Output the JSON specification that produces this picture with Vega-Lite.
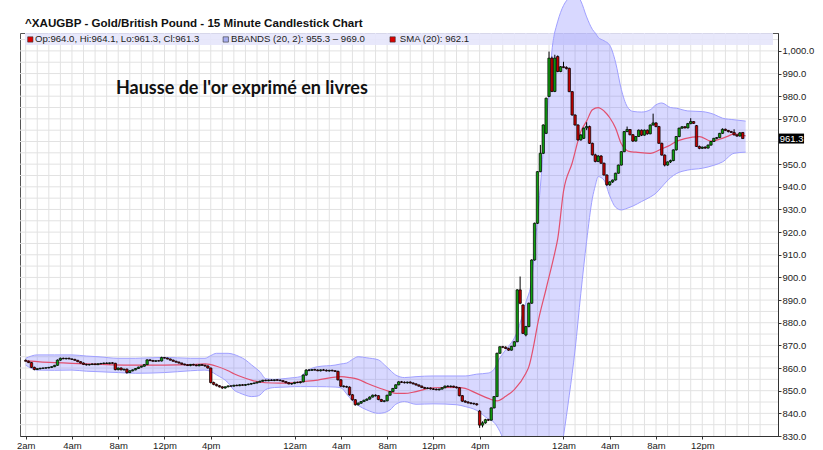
{
"$schema":"https://vega.github.io/schema/vega-lite/v6.json",
"width":758,"height":403,
"autosize":{"type":"none"},
"padding":{"left":20,"top":33,"right":45,"bottom":14},
"background":"#ffffff",
"config":{"view":{"stroke":"#555555","strokeWidth":1},"text":{"font":"Liberation Sans"},"axis":{"grid":false,"title":null,"labelOverlap":false,"labelBound":false,"labelFlush":false}},
"datasets":{
"candles":[
{"i":0,"o":863.4,"h":863.8,"l":862.9,"c":863.0},{"i":1,"o":863.0,"h":863.3,"l":862.2,"c":862.4},{"i":2,"o":862.4,"h":862.6,"l":860.0,"c":860.3},{"i":3,"o":860.3,"h":860.6,"l":859.0,"c":859.4},{"i":4,"o":859.4,"h":859.9,"l":859.1,"c":859.7},{"i":5,"o":859.7,"h":860.1,"l":859.4,"c":859.9},{"i":6,"o":859.9,"h":860.2,"l":859.6,"c":860.0},{"i":7,"o":860.0,"h":860.3,"l":859.7,"c":860.1},{"i":8,"o":860.1,"h":860.5,"l":859.8,"c":860.3},{"i":9,"o":860.3,"h":860.7,"l":860.0,"c":860.6},
{"i":10,"o":860.6,"h":861.4,"l":860.4,"c":861.2},{"i":11,"o":861.2,"h":863.8,"l":861.0,"c":863.5},{"i":12,"o":863.5,"h":864.6,"l":863.2,"c":864.3},{"i":13,"o":864.3,"h":864.6,"l":863.9,"c":864.1},{"i":14,"o":864.1,"h":864.5,"l":863.8,"c":864.3},{"i":15,"o":864.3,"h":864.6,"l":863.9,"c":864.0},{"i":16,"o":864.0,"h":864.3,"l":863.6,"c":863.8},{"i":17,"o":863.8,"h":864.1,"l":863.3,"c":863.4},{"i":18,"o":863.4,"h":863.6,"l":862.6,"c":862.8},{"i":19,"o":862.8,"h":863.0,"l":862.0,"c":862.2},
{"i":20,"o":862.2,"h":862.5,"l":861.4,"c":861.6},{"i":21,"o":861.6,"h":861.9,"l":861.1,"c":861.4},{"i":22,"o":861.4,"h":861.8,"l":861.1,"c":861.6},{"i":23,"o":861.6,"h":862.0,"l":861.3,"c":861.8},{"i":24,"o":861.8,"h":862.1,"l":861.4,"c":861.5},{"i":25,"o":861.5,"h":862.0,"l":861.3,"c":861.9},{"i":26,"o":861.9,"h":862.3,"l":861.6,"c":862.0},{"i":27,"o":862.0,"h":862.4,"l":861.7,"c":862.2},{"i":28,"o":862.2,"h":862.5,"l":861.8,"c":862.0},{"i":29,"o":862.0,"h":862.4,"l":861.7,"c":862.3},
{"i":30,"o":862.3,"h":862.6,"l":861.9,"c":862.1},{"i":31,"o":862.1,"h":862.3,"l":859.0,"c":859.3},{"i":32,"o":859.3,"h":860.2,"l":859.0,"c":860.0},{"i":33,"o":860.0,"h":860.3,"l":859.0,"c":859.2},{"i":34,"o":859.2,"h":859.7,"l":858.9,"c":859.5},{"i":35,"o":859.5,"h":859.8,"l":857.5,"c":858.0},{"i":36,"o":858.0,"h":859.0,"l":857.8,"c":858.8},{"i":37,"o":858.8,"h":859.4,"l":858.5,"c":859.2},{"i":38,"o":859.2,"h":860.0,"l":859.0,"c":859.8},{"i":39,"o":859.8,"h":860.6,"l":859.6,"c":860.4},
{"i":40,"o":860.4,"h":861.0,"l":860.2,"c":860.8},{"i":41,"o":860.8,"h":861.8,"l":860.6,"c":861.5},{"i":42,"o":861.5,"h":863.9,"l":861.3,"c":863.6},{"i":43,"o":863.6,"h":863.9,"l":863.0,"c":863.3},{"i":44,"o":863.3,"h":863.6,"l":862.8,"c":863.0},{"i":45,"o":863.0,"h":863.4,"l":862.7,"c":863.2},{"i":46,"o":863.2,"h":863.5,"l":862.9,"c":863.1},{"i":47,"o":863.1,"h":865.0,"l":862.9,"c":864.6},{"i":48,"o":864.6,"h":864.9,"l":864.2,"c":864.4},{"i":49,"o":864.4,"h":864.6,"l":863.8,"c":864.0},
{"i":50,"o":864.0,"h":864.2,"l":863.3,"c":863.5},{"i":51,"o":863.5,"h":863.7,"l":862.8,"c":863.0},{"i":52,"o":863.0,"h":863.2,"l":862.4,"c":862.6},{"i":53,"o":862.6,"h":862.9,"l":862.0,"c":862.2},{"i":54,"o":862.2,"h":862.4,"l":861.5,"c":861.7},{"i":55,"o":861.7,"h":862.0,"l":861.2,"c":861.4},{"i":56,"o":861.4,"h":861.7,"l":860.9,"c":861.1},{"i":57,"o":861.1,"h":861.8,"l":860.8,"c":861.6},{"i":58,"o":861.6,"h":861.9,"l":861.1,"c":861.3},{"i":59,"o":861.3,"h":861.6,"l":860.8,"c":861.0},
{"i":60,"o":861.0,"h":861.7,"l":860.8,"c":861.5},{"i":61,"o":861.5,"h":861.8,"l":860.9,"c":861.2},{"i":62,"o":861.2,"h":861.5,"l":860.6,"c":860.9},{"i":63,"o":860.9,"h":861.2,"l":859.8,"c":860.0},{"i":64,"o":860.0,"h":860.2,"l":853.2,"c":853.6},{"i":65,"o":853.6,"h":854.0,"l":852.4,"c":852.8},{"i":66,"o":852.8,"h":853.1,"l":851.9,"c":852.2},{"i":67,"o":852.2,"h":852.5,"l":851.4,"c":851.7},{"i":68,"o":851.7,"h":852.0,"l":850.8,"c":851.2},{"i":69,"o":851.2,"h":851.9,"l":850.9,"c":851.7},
{"i":70,"o":851.7,"h":852.3,"l":851.5,"c":852.1},{"i":71,"o":852.1,"h":852.4,"l":851.8,"c":852.0},{"i":72,"o":852.0,"h":852.6,"l":851.8,"c":852.4},{"i":73,"o":852.4,"h":852.7,"l":852.0,"c":852.2},{"i":74,"o":852.2,"h":852.8,"l":852.0,"c":852.6},{"i":75,"o":852.6,"h":852.9,"l":852.2,"c":852.4},{"i":76,"o":852.4,"h":852.9,"l":852.1,"c":852.7},{"i":77,"o":852.7,"h":853.1,"l":852.4,"c":852.9},{"i":78,"o":852.9,"h":853.4,"l":852.6,"c":853.2},{"i":79,"o":853.2,"h":853.6,"l":852.9,"c":853.4},
{"i":80,"o":853.4,"h":854.0,"l":853.2,"c":853.8},{"i":81,"o":853.8,"h":854.4,"l":853.6,"c":854.2},{"i":82,"o":854.2,"h":854.8,"l":853.9,"c":854.6},{"i":83,"o":854.6,"h":854.9,"l":854.2,"c":854.4},{"i":84,"o":854.4,"h":854.9,"l":854.2,"c":854.7},{"i":85,"o":854.7,"h":855.0,"l":854.3,"c":854.5},{"i":86,"o":854.5,"h":854.9,"l":854.2,"c":854.8},{"i":87,"o":854.8,"h":855.1,"l":854.4,"c":854.6},{"i":88,"o":854.6,"h":855.0,"l":854.3,"c":854.4},{"i":89,"o":854.4,"h":854.7,"l":853.8,"c":854.0},
{"i":90,"o":854.0,"h":854.3,"l":853.3,"c":853.5},{"i":91,"o":853.5,"h":853.8,"l":852.8,"c":853.0},{"i":92,"o":853.0,"h":853.4,"l":852.6,"c":853.2},{"i":93,"o":853.2,"h":853.9,"l":852.9,"c":853.7},{"i":94,"o":853.7,"h":854.0,"l":853.3,"c":853.6},{"i":95,"o":853.6,"h":854.1,"l":853.2,"c":853.9},{"i":96,"o":853.9,"h":857.2,"l":853.7,"c":856.9},{"i":97,"o":856.9,"h":859.5,"l":856.6,"c":859.1},{"i":98,"o":859.1,"h":859.6,"l":858.6,"c":859.0},{"i":99,"o":859.0,"h":859.5,"l":858.7,"c":859.3},
{"i":100,"o":859.3,"h":859.7,"l":858.9,"c":859.1},{"i":101,"o":859.1,"h":859.5,"l":858.6,"c":858.8},{"i":102,"o":858.8,"h":859.4,"l":858.5,"c":859.2},{"i":103,"o":859.2,"h":859.6,"l":858.9,"c":859.0},{"i":104,"o":859.0,"h":859.4,"l":858.5,"c":858.7},{"i":105,"o":858.7,"h":859.2,"l":858.4,"c":859.0},{"i":106,"o":859.0,"h":859.3,"l":858.5,"c":858.8},{"i":107,"o":858.8,"h":859.1,"l":858.3,"c":858.5},{"i":108,"o":858.5,"h":858.9,"l":854.5,"c":854.8},{"i":109,"o":854.8,"h":855.1,"l":851.6,"c":852.0},
{"i":110,"o":852.0,"h":852.4,"l":851.4,"c":851.8},{"i":111,"o":851.8,"h":852.2,"l":851.3,"c":851.6},{"i":112,"o":851.6,"h":851.9,"l":847.8,"c":848.2},{"i":113,"o":848.2,"h":848.5,"l":845.6,"c":846.0},{"i":114,"o":846.0,"h":846.3,"l":843.4,"c":843.8},{"i":115,"o":843.8,"h":844.8,"l":843.5,"c":844.5},{"i":116,"o":844.5,"h":845.4,"l":844.2,"c":845.2},{"i":117,"o":845.2,"h":846.0,"l":845.0,"c":845.8},{"i":118,"o":845.8,"h":846.6,"l":845.5,"c":846.3},{"i":119,"o":846.3,"h":847.5,"l":846.0,"c":847.2},
{"i":120,"o":847.2,"h":848.3,"l":847.0,"c":848.0},{"i":121,"o":848.0,"h":848.4,"l":847.4,"c":847.8},{"i":122,"o":847.8,"h":848.0,"l":845.8,"c":846.1},{"i":123,"o":846.1,"h":846.4,"l":845.0,"c":845.3},{"i":124,"o":845.3,"h":845.8,"l":844.9,"c":845.5},{"i":125,"o":845.5,"h":848.2,"l":845.3,"c":848.0},{"i":126,"o":848.0,"h":849.8,"l":847.8,"c":849.6},{"i":127,"o":849.6,"h":851.2,"l":849.4,"c":851.0},{"i":128,"o":851.0,"h":852.8,"l":850.8,"c":852.6},{"i":129,"o":852.6,"h":854.2,"l":852.4,"c":853.9},
{"i":130,"o":853.9,"h":854.3,"l":853.4,"c":853.7},{"i":131,"o":853.7,"h":854.1,"l":853.2,"c":853.5},{"i":132,"o":853.5,"h":854.0,"l":853.1,"c":853.8},{"i":133,"o":853.8,"h":854.1,"l":853.2,"c":853.4},{"i":134,"o":853.4,"h":853.7,"l":852.8,"c":853.0},{"i":135,"o":853.0,"h":853.3,"l":852.3,"c":852.5},{"i":136,"o":852.5,"h":852.8,"l":851.8,"c":852.0},{"i":137,"o":852.0,"h":852.3,"l":851.2,"c":851.4},{"i":138,"o":851.4,"h":851.7,"l":850.8,"c":851.0},{"i":139,"o":851.0,"h":851.5,"l":850.7,"c":851.2},
{"i":140,"o":851.2,"h":851.4,"l":850.5,"c":850.8},{"i":141,"o":850.8,"h":851.2,"l":850.3,"c":850.6},{"i":142,"o":850.6,"h":851.0,"l":850.2,"c":850.4},{"i":143,"o":850.4,"h":850.9,"l":850.1,"c":850.7},{"i":144,"o":850.7,"h":851.5,"l":850.5,"c":851.3},{"i":145,"o":851.3,"h":852.3,"l":851.1,"c":852.0},{"i":146,"o":852.0,"h":852.4,"l":851.6,"c":851.8},{"i":147,"o":851.8,"h":852.3,"l":851.5,"c":852.0},{"i":148,"o":852.0,"h":852.2,"l":851.4,"c":851.6},{"i":149,"o":851.6,"h":851.9,"l":851.0,"c":851.3},
{"i":150,"o":851.3,"h":851.6,"l":847.5,"c":847.8},{"i":151,"o":847.8,"h":848.1,"l":845.0,"c":845.4},{"i":152,"o":845.4,"h":845.8,"l":844.6,"c":845.0},{"i":153,"o":845.0,"h":845.4,"l":844.3,"c":844.6},{"i":154,"o":844.6,"h":845.0,"l":844.0,"c":844.4},{"i":155,"o":844.4,"h":844.7,"l":843.8,"c":844.2},{"i":156,"o":844.2,"h":844.5,"l":843.4,"c":843.8},{"i":157,"o":841.0,"h":841.5,"l":833.6,"c":834.8},{"i":158,"o":834.8,"h":836.5,"l":833.8,"c":835.8},{"i":159,"o":835.8,"h":837.6,"l":835.4,"c":837.2},
{"i":160,"o":837.2,"h":837.6,"l":836.6,"c":837.0},{"i":161,"o":837.0,"h":842.6,"l":836.8,"c":842.4},{"i":162,"o":842.4,"h":847.6,"l":842.2,"c":847.4},{"i":163,"o":847.4,"h":866.8,"l":847.2,"c":866.5},{"i":164,"o":866.5,"h":869.6,"l":866.3,"c":869.4},{"i":165,"o":869.4,"h":869.8,"l":868.8,"c":869.2},{"i":166,"o":869.2,"h":869.6,"l":868.4,"c":868.6},{"i":167,"o":868.6,"h":869.0,"l":867.6,"c":867.9},{"i":168,"o":867.9,"h":869.8,"l":867.7,"c":869.6},{"i":169,"o":869.6,"h":871.8,"l":869.4,"c":871.6},
{"i":170,"o":871.6,"h":894.8,"l":871.4,"c":894.5},{"i":171,"o":894.5,"h":900.4,"l":888.2,"c":888.6},{"i":172,"o":887.8,"h":888.2,"l":875.0,"c":875.3},{"i":173,"o":874.6,"h":878.6,"l":874.0,"c":878.3},{"i":174,"o":878.3,"h":888.9,"l":878.0,"c":888.6},{"i":175,"o":888.6,"h":908.0,"l":888.4,"c":907.7},{"i":176,"o":907.7,"h":924.2,"l":907.4,"c":923.9},{"i":177,"o":923.9,"h":946.9,"l":923.6,"c":946.7},{"i":178,"o":946.7,"h":958.5,"l":946.4,"c":954.8},{"i":179,"o":954.8,"h":967.6,"l":954.5,"c":967.3},
{"i":180,"o":963.6,"h":979.4,"l":963.3,"c":979.1},{"i":181,"o":979.9,"h":999.7,"l":979.6,"c":996.8},{"i":182,"o":996.8,"h":997.5,"l":981.8,"c":982.1},{"i":183,"o":982.1,"h":998.3,"l":981.8,"c":996.8},{"i":184,"o":997.5,"h":998.0,"l":990.6,"c":990.9},{"i":185,"o":990.9,"h":993.3,"l":990.6,"c":993.0},{"i":186,"o":993.0,"h":995.2,"l":992.4,"c":992.7},{"i":187,"o":992.7,"h":993.2,"l":991.8,"c":992.2},{"i":188,"o":992.3,"h":992.6,"l":981.8,"c":982.0},{"i":189,"o":982.0,"h":982.3,"l":971.4,"c":971.7},
{"i":190,"o":971.7,"h":972.0,"l":967.0,"c":967.3},{"i":191,"o":967.3,"h":967.6,"l":960.4,"c":960.7},{"i":192,"o":960.7,"h":963.2,"l":960.4,"c":962.9},{"i":193,"o":961.4,"h":966.2,"l":961.1,"c":965.9},{"i":194,"o":966.0,"h":968.5,"l":965.0,"c":966.6},{"i":195,"o":966.6,"h":967.0,"l":958.9,"c":959.2},{"i":196,"o":959.2,"h":959.5,"l":953.8,"c":954.1},{"i":197,"o":954.1,"h":954.6,"l":950.8,"c":951.2},{"i":198,"o":951.2,"h":954.0,"l":950.9,"c":953.6},{"i":199,"o":953.6,"h":954.0,"l":950.2,"c":950.4},
{"i":200,"o":950.4,"h":950.7,"l":945.0,"c":945.2},{"i":201,"o":945.2,"h":945.5,"l":940.4,"c":940.9},{"i":202,"o":940.9,"h":942.4,"l":940.4,"c":942.2},{"i":203,"o":942.2,"h":943.2,"l":941.7,"c":943.0},{"i":204,"o":943.0,"h":946.2,"l":942.8,"c":946.0},{"i":205,"o":946.0,"h":949.8,"l":945.8,"c":949.6},{"i":206,"o":949.6,"h":955.7,"l":949.4,"c":955.5},{"i":207,"o":955.5,"h":964.6,"l":955.3,"c":964.4},{"i":208,"o":964.4,"h":966.6,"l":964.1,"c":965.3},{"i":209,"o":965.3,"h":965.5,"l":962.7,"c":963.0},
{"i":210,"o":963.0,"h":963.3,"l":959.8,"c":960.2},{"i":211,"o":960.2,"h":962.4,"l":960.0,"c":962.2},{"i":212,"o":962.2,"h":965.3,"l":962.0,"c":965.0},{"i":213,"o":965.0,"h":965.3,"l":962.4,"c":962.8},{"i":214,"o":962.8,"h":965.3,"l":962.6,"c":965.0},{"i":215,"o":965.0,"h":965.3,"l":963.0,"c":963.4},{"i":216,"o":963.4,"h":967.5,"l":963.2,"c":967.3},{"i":217,"o":967.3,"h":972.3,"l":967.0,"c":968.2},{"i":218,"o":968.2,"h":968.5,"l":966.3,"c":966.6},{"i":219,"o":966.6,"h":966.9,"l":959.0,"c":959.2},
{"i":220,"o":959.2,"h":959.5,"l":953.8,"c":954.0},{"i":221,"o":954.0,"h":954.3,"l":949.0,"c":949.6},{"i":222,"o":949.6,"h":951.2,"l":949.3,"c":951.0},{"i":223,"o":951.0,"h":952.0,"l":950.5,"c":951.6},{"i":224,"o":951.6,"h":956.5,"l":951.3,"c":956.3},{"i":225,"o":956.3,"h":962.4,"l":956.0,"c":962.2},{"i":226,"o":962.2,"h":966.1,"l":961.9,"c":965.9},{"i":227,"o":965.9,"h":966.8,"l":965.6,"c":966.5},{"i":228,"o":966.5,"h":966.8,"l":965.8,"c":966.0},{"i":229,"o":966.0,"h":968.2,"l":965.8,"c":967.9},
{"i":230,"o":967.9,"h":970.3,"l":967.6,"c":968.8},{"i":231,"o":968.8,"h":969.0,"l":967.8,"c":968.0},{"i":232,"o":967.0,"h":967.3,"l":957.6,"c":957.8},{"i":233,"o":957.8,"h":958.2,"l":956.6,"c":957.0},{"i":234,"o":957.0,"h":957.8,"l":956.7,"c":957.5},{"i":235,"o":957.5,"h":957.9,"l":956.8,"c":957.1},{"i":236,"o":957.1,"h":958.7,"l":956.9,"c":958.4},{"i":237,"o":958.4,"h":960.2,"l":958.2,"c":960.0},{"i":238,"o":960.0,"h":961.6,"l":959.8,"c":961.4},{"i":239,"o":961.4,"h":962.0,"l":961.0,"c":961.7},
{"i":240,"o":961.7,"h":963.8,"l":961.5,"c":963.6},{"i":241,"o":963.6,"h":965.8,"l":963.4,"c":965.4},{"i":242,"o":965.4,"h":965.7,"l":964.6,"c":964.9},{"i":243,"o":964.9,"h":965.1,"l":964.0,"c":964.4},{"i":244,"o":964.4,"h":964.7,"l":963.8,"c":964.0},{"i":245,"o":964.0,"h":965.4,"l":962.7,"c":962.9},{"i":246,"o":962.9,"h":963.2,"l":962.1,"c":962.4},{"i":247,"o":962.4,"h":964.2,"l":962.2,"c":963.8},{"i":248,"o":964.0,"h":964.1,"l":961.3,"c":961.3}
],
"bb":[
{"i":0,"u":864.3,"d":861.3},{"i":4,"u":865.8,"d":859.1},{"i":10,"u":865.8,"d":859.0},{"i":16,"u":865.8,"d":859.1},{"i":21,"u":865.3,"d":858.6},{"i":25,"u":865.0,"d":858.4},{"i":32,"u":864.3,"d":858.0},{"i":38,"u":864.3,"d":857.7},{"i":48,"u":864.7,"d":858.0},{"i":57,"u":864.3,"d":858.8},{"i":62,"u":864.3,"d":859.1},{"i":64,"u":865.5,"d":858.5},{"i":66,"u":866.5,"d":857.0},{"i":70,"u":866.5,"d":853.5},{"i":72,"u":866.0,"d":850.3},{"i":74,"u":865.0,"d":849.0},{"i":76,"u":863.6,"d":848.0},{"i":78,"u":861.5,"d":847.4},{"i":80,"u":859.5,"d":847.6},{"i":81,"u":858.4,"d":848.1},{"i":83,"u":855.3,"d":850.5},{"i":86,"u":855.0,"d":851.4},{"i":90,"u":855.4,"d":851.6},{"i":93,"u":855.8,"d":851.8},{"i":95,"u":856.2,"d":851.8},{"i":97,"u":858.5,"d":851.8},{"i":101,"u":860.6,"d":851.8},{"i":107,"u":861.3,"d":851.6},{"i":109,"u":861.8,"d":851.3},{"i":111,"u":862.2,"d":848.6},{"i":113,"u":863.8,"d":845.5},{"i":115,"u":865.0,"d":843.5},{"i":118,"u":864.5,"d":841.5},{"i":122,"u":863.6,"d":840.0},{"i":124,"u":861.5,"d":840.3},{"i":126,"u":859.1,"d":841.5},{"i":128,"u":856.9,"d":844.0},{"i":131,"u":855.8,"d":845.2},{"i":135,"u":856.2,"d":844.0},{"i":141,"u":856.5,"d":844.2},{"i":149,"u":856.5,"d":843.8},{"i":152,"u":856.5,"d":843.0},{"i":156,"u":857.3,"d":841.3},{"i":160,"u":857.8,"d":837.5},{"i":162,"u":859.5,"d":836.0},{"i":164,"u":864.5,"d":832.0},{"i":166,"u":868.0,"d":826.0},{"i":170,"u":876.0,"d":818.0},{"i":173,"u":889.0,"d":813.0},{"i":175,"u":899.0,"d":811.0},{"i":176,"u":912.0,"d":810.0},{"i":178,"u":940.0,"d":810.0},{"i":179,"u":956.0,"d":810.0},{"i":181,"u":982.0,"d":811.0},{"i":182,"u":1000.0,"d":812.0},{"i":182.9,"u":1007.9,"d":813.8},{"i":185,"u":1017.0,"d":822.0},{"i":186,"u":1020.0,"d":830.0},{"i":188,"u":1023.5,"d":848.0},{"i":190,"u":1025.0,"d":868.0},{"i":192,"u":1022.0,"d":893.0},{"i":194,"u":1015.0,"d":916.0},{"i":196,"u":1009.5,"d":935.0},{"i":197,"u":1007.9,"d":940.5},{"i":198,"u":1006.0,"d":944.5},{"i":200,"u":1004.5,"d":943.0},{"i":202,"u":1002.5,"d":936.0},{"i":204,"u":995.0,"d":931.0},{"i":206,"u":983.0,"d":929.8},{"i":208,"u":975.5,"d":930.5},{"i":210,"u":973.3,"d":931.5},{"i":213,"u":973.0,"d":933.5},{"i":216,"u":974.0,"d":935.5},{"i":218,"u":976.2,"d":937.2},{"i":220,"u":977.0,"d":940.0},{"i":223,"u":975.0,"d":944.0},{"i":225,"u":974.7,"d":945.8},{"i":229,"u":973.5,"d":947.4},{"i":234,"u":973.2,"d":948.2},{"i":238,"u":972.0,"d":949.5},{"i":241,"u":970.3,"d":951.0},{"i":245,"u":969.6,"d":954.8},{"i":249,"u":969.0,"d":955.3}
],
"sma":[
{"i":0,"m":863.2},{"i":10,"m":862.4},{"i":16,"m":862.1},{"i":21,"m":861.8},{"i":30,"m":861.4},{"i":38,"m":861.3},{"i":48,"m":861.3},{"i":57,"m":861.5},{"i":62,"m":861.8},{"i":66,"m":860.8},{"i":70,"m":858.8},{"i":72,"m":857.5},{"i":76,"m":855.5},{"i":78,"m":854.7},{"i":83,"m":853.5},{"i":88,"m":853.3},{"i":93,"m":853.6},{"i":96,"m":854.0},{"i":101,"m":854.7},{"i":107,"m":856.0},{"i":109,"m":856.2},{"i":112,"m":855.8},{"i":115,"m":855.0},{"i":118,"m":853.3},{"i":122,"m":851.3},{"i":126,"m":849.6},{"i":128,"m":848.8},{"i":131,"m":848.8},{"i":135,"m":849.6},{"i":141,"m":851.3},{"i":149,"m":851.5},{"i":152,"m":851.0},{"i":156,"m":848.8},{"i":160,"m":846.6},{"i":163,"m":845.5},{"i":166,"m":847.5},{"i":169,"m":850.5},{"i":173,"m":857.7},{"i":174,"m":860.5},{"i":176,"m":872.0},{"i":177,"m":879.0},{"i":180,"m":895.0},{"i":183,"m":911.0},{"i":184,"m":917.0},{"i":186,"m":938.0},{"i":189,"m":950.5},{"i":192,"m":964.4},{"i":194,"m":969.0},{"i":196,"m":974.0},{"i":198,"m":975.0},{"i":200,"m":973.5},{"i":202,"m":970.5},{"i":204,"m":966.0},{"i":206,"m":959.0},{"i":209,"m":955.5},{"i":211,"m":955.3},{"i":216,"m":954.8},{"i":220,"m":956.8},{"i":223,"m":958.5},{"i":225,"m":960.0},{"i":228,"m":961.3},{"i":233,"m":962.2},{"i":237,"m":960.2},{"i":240,"m":961.0},{"i":243,"m":962.4},{"i":245,"m":963.4},{"i":249,"m":962.5}
],
"gx":[{"g":0},{"g":4},{"g":8},{"g":12},{"g":16},{"g":20},{"g":24},{"g":28},{"g":32},{"g":36},{"g":40},{"g":44},{"g":48},{"g":52},{"g":56},{"g":60},{"g":64},{"g":68},{"g":72},{"g":76},{"g":80},{"g":84},{"g":88},{"g":93},{"g":97},{"g":101},{"g":105},{"g":109},{"g":113},{"g":117},{"g":121},{"g":125},{"g":129},{"g":133},{"g":137},{"g":141},{"g":145},{"g":149},{"g":153},{"g":157},{"g":161},{"g":165},{"g":169},{"g":173},{"g":177},{"g":181},{"g":186},{"g":190},{"g":194},{"g":198},{"g":202},{"g":206},{"g":210},{"g":214},{"g":218},{"g":222},{"g":226},{"g":230},{"g":234},{"g":238},{"g":242},{"g":246},{"g":250},{"g":254}],
"gy":[{"v":835},{"v":840},{"v":845},{"v":850},{"v":855},{"v":860},{"v":865},{"v":870},{"v":875},{"v":880},{"v":885},{"v":890},{"v":895},{"v":900},{"v":905},{"v":910},{"v":915},{"v":920},{"v":925},{"v":930},{"v":935},{"v":940},{"v":945},{"v":950},{"v":955},{"v":960},{"v":965},{"v":970},{"v":975},{"v":980},{"v":985},{"v":990},{"v":995},{"v":1000},{"v":1005}]
},
"layer":[
{"data":{"name":"gy"},"mark":{"type":"rule","stroke":"#e2e2e2","strokeWidth":1},
 "encoding":{"y":{"field":"v","type":"quantitative","scale":{"domain":[830,1007.9],"nice":false,"zero":false},"title":null,
   "axis":{"orient":"right","tickCount":18,"labelExpr":"datum.value == 960 ? '' : format(datum.value, ',.1f')","grid":false,"ticks":true,"labels":true,"domain":true,"tickSize":3,"labelPadding":1,"labelFont":"Liberation Sans","labelFontSize":9.5,"labelColor":"#222222","domainColor":"#333333","tickColor":"#333333","labelFlush":false,"labelOverlap":false,"labelSeparation":0,"zindex":0}}}},
{"data":{"name":"gx"},"mark":{"type":"rule","stroke":"#e2e2e2","strokeWidth":1},
 "encoding":{"x":{"field":"g","type":"quantitative","scale":{"domain":[-0.24,258.46],"nice":false,"zero":false},"title":null,
   "axis":{"orient":"bottom","values":[0,16,32,48,64,93,109,125,141,157,186,202,218,234],"labelExpr":"['2am','4am','8am','12pm','4pm','12am','4am','8am','12pm','4pm','12am','4am','8am','12pm'][indexof([0,16,32,48,64,93,109,125,141,157,186,202,218,234], datum.value)]","grid":false,"ticks":true,"labels":true,"domain":true,"tickSize":3,"labelPadding":1,"labelFont":"Liberation Sans","labelFontSize":9.5,"labelColor":"#222222","domainColor":"#333333","tickColor":"#333333","labelFlush":false,"labelOverlap":false,"zindex":1}}}},
{"data":{"values":[{}]},"mark":{"type":"rect","fill":"#e6e6fb","opacity":0.9},
 "encoding":{"x":{"datum":-0.24,"type":"quantitative","scale":{"domain":[-0.24,258.46],"nice":false,"zero":false},"title":null},"x2":{"datum":258.46},
 "y":{"datum":1002.6,"type":"quantitative","scale":{"domain":[830,1007.9],"nice":false,"zero":false},"title":null},"y2":{"datum":1007.9}}},
{"data":{"name":"bb"},"mark":{"type":"area","interpolate":"monotone","fill":"#6f6fff","fillOpacity":0.27,"clip":true},
 "encoding":{"x":{"field":"i","type":"quantitative","scale":{"domain":[-0.24,258.46],"nice":false,"zero":false},"title":null},
 "y":{"field":"u","type":"quantitative","scale":{"domain":[830,1007.9],"nice":false,"zero":false},"title":null},"y2":{"field":"d"}}},
{"data":{"name":"bb"},"mark":{"type":"line","interpolate":"monotone","stroke":"#a0a0ff","strokeWidth":1,"clip":true},
 "encoding":{"x":{"field":"i","type":"quantitative","scale":{"domain":[-0.24,258.46],"nice":false,"zero":false},"title":null},
 "y":{"field":"u","type":"quantitative","scale":{"domain":[830,1007.9],"nice":false,"zero":false},"title":null}}},
{"data":{"name":"bb"},"mark":{"type":"line","interpolate":"monotone","stroke":"#a0a0ff","strokeWidth":1,"clip":true},
 "encoding":{"x":{"field":"i","type":"quantitative","scale":{"domain":[-0.24,258.46],"nice":false,"zero":false},"title":null},
 "y":{"field":"d","type":"quantitative","scale":{"domain":[830,1007.9],"nice":false,"zero":false},"title":null}}},
{"data":{"name":"bb"},"transform":[{"filter":"datum.u >= 1007.9"}],"mark":{"type":"area","interpolate":"monotone","fill":"#6f6fff","fillOpacity":0.27,"clip":false},
 "encoding":{"x":{"field":"i","type":"quantitative","scale":{"domain":[-0.24,258.46],"nice":false,"zero":false},"title":null},
 "y":{"field":"u","type":"quantitative","scale":{"domain":[830,1007.9],"nice":false,"zero":false},"title":null},"y2":{"datum":1007.9}}},
{"data":{"name":"bb"},"transform":[{"filter":"datum.u >= 1007.9"}],"mark":{"type":"line","interpolate":"monotone","stroke":"#a0a0ff","strokeWidth":1,"clip":false},
 "encoding":{"x":{"field":"i","type":"quantitative","scale":{"domain":[-0.24,258.46],"nice":false,"zero":false},"title":null},
 "y":{"field":"u","type":"quantitative","scale":{"domain":[830,1007.9],"nice":false,"zero":false},"title":null}}},
{"data":{"name":"sma"},"mark":{"type":"line","interpolate":"monotone","stroke":"#e2506f","strokeWidth":1.2,"clip":true},
 "encoding":{"x":{"field":"i","type":"quantitative","scale":{"domain":[-0.24,258.46],"nice":false,"zero":false},"title":null},
 "y":{"field":"m","type":"quantitative","scale":{"domain":[830,1007.9],"nice":false,"zero":false},"title":null}}},
{"data":{"name":"candles"},"mark":{"type":"rule","stroke":"#000000","strokeWidth":1},
 "encoding":{"x":{"field":"i","type":"quantitative","scale":{"domain":[-0.24,258.46],"nice":false,"zero":false},"title":null},
 "y":{"field":"l","type":"quantitative","scale":{"domain":[830,1007.9],"nice":false,"zero":false},"title":null},"y2":{"field":"h"}}},
{"data":{"name":"candles"},"mark":{"type":"bar","width":2.4,"stroke":"#000000","strokeWidth":0.7},
 "encoding":{"x":{"field":"i","type":"quantitative","scale":{"domain":[-0.24,258.46],"nice":false,"zero":false},"title":null},
 "y":{"field":"o","type":"quantitative","scale":{"domain":[830,1007.9],"nice":false,"zero":false},"title":null,
   "axis":{"orient":"right","tickCount":18,"labelExpr":"datum.value == 960 ? '' : format(datum.value, ',.1f')","grid":false,"tickSize":3,"labelPadding":1,"labelFont":"Liberation Sans","labelFontSize":9.5,"labelColor":"#222222","domainColor":"#333333","tickColor":"#333333","labelFlush":false,"labelOverlap":false,"labelSeparation":0,"zindex":0}},
 "y2":{"field":"c"},
 "fill":{"condition":{"test":"datum.c >= datum.o","value":"#10a010"},"value":"#c40000"}}},
{"data":{"values":[{}]},"mark":{"type":"point","shape":"square","size":28,"filled":true,"fill":"#dd0000","stroke":"#333333","strokeWidth":0.6,"opacity":1},
 "encoding":{"x":{"datum":1.6,"type":"quantitative","scale":{"domain":[-0.24,258.46],"nice":false,"zero":false},"title":null},"y":{"datum":1005.05,"type":"quantitative","scale":{"domain":[830,1007.9],"nice":false,"zero":false},"title":null}}},
{"data":{"values":[{}]},"mark":{"type":"point","shape":"square","size":28,"filled":true,"fill":"#a8aef0","stroke":"#333333","strokeWidth":0.6,"opacity":1},
 "encoding":{"x":{"datum":69.2,"type":"quantitative","scale":{"domain":[-0.24,258.46],"nice":false,"zero":false},"title":null},"y":{"datum":1005.05,"type":"quantitative","scale":{"domain":[830,1007.9],"nice":false,"zero":false},"title":null}}},
{"data":{"values":[{}]},"mark":{"type":"point","shape":"square","size":28,"filled":true,"fill":"#dd0000","stroke":"#333333","strokeWidth":0.6,"opacity":1},
 "encoding":{"x":{"datum":126.9,"type":"quantitative","scale":{"domain":[-0.24,258.46],"nice":false,"zero":false},"title":null},"y":{"datum":1005.05,"type":"quantitative","scale":{"domain":[830,1007.9],"nice":false,"zero":false},"title":null}}},
{"data":{"values":[{}]},"mark":{"type":"text","align":"left","baseline":"middle","font":"Liberation Sans","fontSize":9.6,"color":"#222222","text":"Op:964.0, Hi:964.1, Lo:961.3, Cl:961.3"},
 "encoding":{"x":{"datum":3.2,"type":"quantitative","scale":{"domain":[-0.24,258.46],"nice":false,"zero":false},"title":null},"y":{"datum":1005.05,"type":"quantitative","scale":{"domain":[830,1007.9],"nice":false,"zero":false},"title":null}}},
{"data":{"values":[{}]},"mark":{"type":"text","align":"left","baseline":"middle","font":"Liberation Sans","fontSize":9.6,"color":"#222222","text":"BBANDS (20, 2): 955.3 – 969.0"},
 "encoding":{"x":{"datum":71.0,"type":"quantitative","scale":{"domain":[-0.24,258.46],"nice":false,"zero":false},"title":null},"y":{"datum":1005.05,"type":"quantitative","scale":{"domain":[830,1007.9],"nice":false,"zero":false},"title":null}}},
{"data":{"values":[{}]},"mark":{"type":"text","align":"left","baseline":"middle","font":"Liberation Sans","fontSize":9.6,"color":"#222222","text":"SMA (20): 962.1"},
 "encoding":{"x":{"datum":129.4,"type":"quantitative","scale":{"domain":[-0.24,258.46],"nice":false,"zero":false},"title":null},"y":{"datum":1005.05,"type":"quantitative","scale":{"domain":[830,1007.9],"nice":false,"zero":false},"title":null}}},
{"data":{"values":[{}]},"mark":{"type":"text","align":"left","baseline":"middle","font":"Lato","fontWeight":"bold","fontSize":18,"color":"#111111","text":"Hausse de l'or exprimé en livres"},
 "encoding":{"x":{"datum":31.2,"type":"quantitative","scale":{"domain":[-0.24,258.46],"nice":false,"zero":false},"title":null},"y":{"datum":983.2,"type":"quantitative","scale":{"domain":[830,1007.9],"nice":false,"zero":false},"title":null}}},
{"data":{"values":[{}]},"mark":{"type":"text","align":"left","baseline":"alphabetic","font":"Liberation Sans","fontWeight":"bold","fontSize":11.6,"color":"#111111","text":"^XAUGBP - Gold/British Pound - 15 Minute Candlestick Chart","clip":false},
 "encoding":{"x":{"datum":-0.24,"type":"quantitative","scale":{"domain":[-0.24,258.46],"nice":false,"zero":false},"title":null},"y":{"datum":1010.6,"type":"quantitative","scale":{"domain":[830,1007.9],"nice":false,"zero":false},"title":null}}},
{"data":{"values":[{}]},"mark":{"type":"rect","fill":"#000000","clip":false},
 "encoding":{"x":{"datum":260.5,"type":"quantitative","scale":{"domain":[-0.24,258.46],"nice":false,"zero":false},"title":null},"x2":{"datum":269.2},
 "y":{"datum":959.1,"type":"quantitative","scale":{"domain":[830,1007.9],"nice":false,"zero":false},"title":null},"y2":{"datum":963.5}}},
{"data":{"values":[{}]},"mark":{"type":"text","align":"left","baseline":"middle","font":"Liberation Sans","fontSize":9.5,"color":"#ffffff","text":"961.3","clip":false},
 "encoding":{"x":{"datum":260.8,"type":"quantitative","scale":{"domain":[-0.24,258.46],"nice":false,"zero":false},"title":null},"y":{"datum":961.3,"type":"quantitative","scale":{"domain":[830,1007.9],"nice":false,"zero":false},"title":null}}}
]
}
